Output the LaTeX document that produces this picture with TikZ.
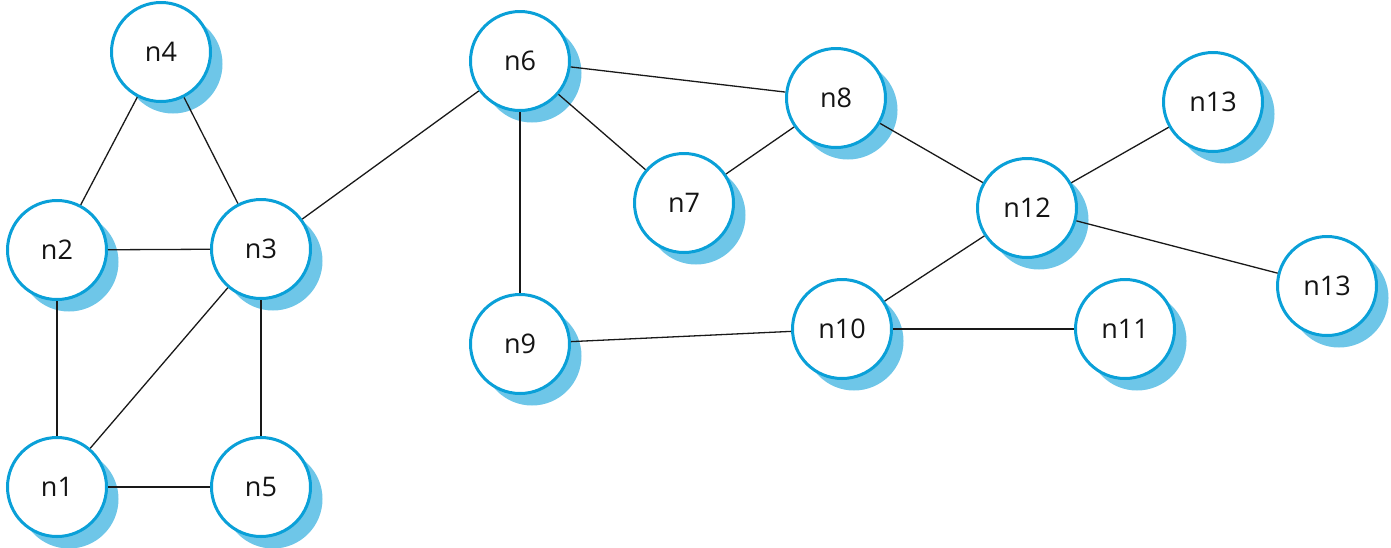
\documentclass[tikz,border=0pt]{standalone}
\usepackage{fontspec}
\setmainfont{Open Sans}
\usetikzlibrary{shadows}
\definecolor{ringblue}{HTML}{0AA0D8}
\definecolor{shadeblue}{HTML}{6EC6E8}
\definecolor{txt}{HTML}{141414}
\tikzset{
  vert/.style={circle, draw=ringblue, line width=3pt, fill=white, minimum size=99pt, inner sep=0pt,
    text=txt, font=\fontsize{27}{29}\selectfont,
    drop shadow={shadow xshift=12pt, shadow yshift=-12pt, fill=shadeblue, opacity=1}},
  link/.style={draw=black!90, line width=1.3pt}
}
\begin{document}
\begin{tikzpicture}[x=1pt,y=-1pt]
\useasboundingbox (0,0) rectangle (1391,547);
\node[vert] (n4) at (161,52) {n4};
\node[vert] (n2) at (57,250) {n2};
\node[vert] (n3) at (261,249) {n3};
\node[vert] (n1) at (57,487) {n1};
\node[vert] (n5) at (261,487) {n5};
\node[vert] (n6) at (520,61) {n6};
\node[vert] (n7) at (684,203) {n7};
\node[vert] (n8) at (836,98) {n8};
\node[vert] (n9) at (520,344) {n9};
\node[vert] (n10) at (842,329) {n10};
\node[vert] (n11) at (1125,329) {n11};
\node[vert] (n12) at (1027,208) {n12};
\node[vert] (n13a) at (1213,102) {n13};
\node[vert] (n13b) at (1327,286) {n13};
\draw[link] (n4) -- (n2);
\draw[link] (n4) -- (n3);
\draw[link] (n2) -- (n3);
\draw[link] (n2) -- (n1);
\draw[link] (n3) -- (n1);
\draw[link] (n3) -- (n5);
\draw[link] (n1) -- (n5);
\draw[link] (n3) -- (n6);
\draw[link] (n6) -- (n8);
\draw[link] (n6) -- (n7);
\draw[link] (n7) -- (n8);
\draw[link] (n6) -- (n9);
\draw[link] (n8) -- (n12);
\draw[link] (n9) -- (n10);
\draw[link] (n10) -- (n11);
\draw[link] (n10) -- (n12);
\draw[link] (n12) -- (n13a);
\draw[link] (n12) -- (n13b);
\end{tikzpicture}
\end{document}
